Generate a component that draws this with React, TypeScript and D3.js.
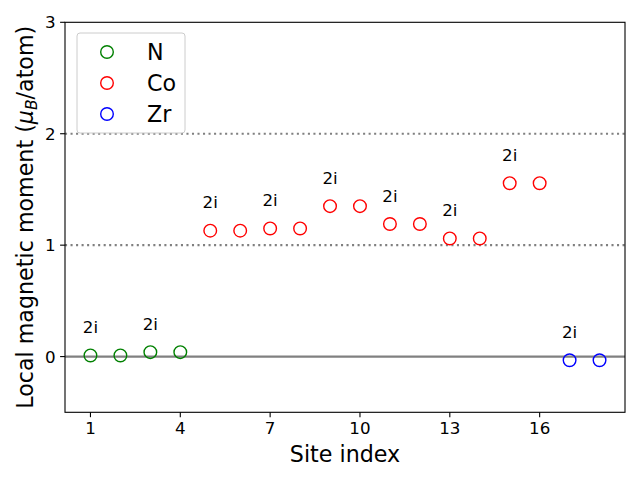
import React from "react";
import * as d3 from "d3";

const nSites = [1, 2, 3, 4];
const nMoments = [0.01, 0.01, 0.04, 0.04];
const coSites = [5, 6, 7, 8, 9, 10, 11, 12, 13, 14, 15, 16];
const coMoments = [1.13, 1.13, 1.15, 1.15, 1.35, 1.35, 1.19, 1.19, 1.06, 1.06, 1.556, 1.556];
const zrSites = [17, 18];
const zrMoments = [-0.033, -0.033];
const labelSites = [1, 3, 5, 7, 9, 11, 13, 15, 17];
const labelText = "2i";
const xTicks = [1, 4, 7, 10, 13, 16];
const yTicks = [0, 1, 2, 3];
const refLines = [1, 2];
const seriesNames = ["N", "Co", "Zr"];
const seriesColors = ["green", "red", "blue"];

const FONT = "DejaVu Sans, sans-serif";

export default function App() {
  const W = 640, H = 480;
  const L = 65, R = 625, T = 22.3, B = 412.3;
  const x = d3.scaleLinear().domain([0.15, 18.85]).range([L, R]);
  const y = d3.scaleLinear().domain([-0.5, 3]).range([B, T]);

  const series = [
    { sites: nSites, vals: nMoments },
    { sites: coSites, vals: coMoments },
    { sites: zrSites, vals: zrMoments },
  ];
  const allSites = [...nSites, ...coSites, ...zrSites];
  const allVals = [...nMoments, ...coMoments, ...zrMoments];
  const valAt = (s: number) => allVals[allSites.indexOf(s)];

  const r = 6.3;
  const mw = 1.4;
  const tickFs = 16.7;
  const labFs = 22.2;
  return (
    <svg width={W} height={H} style={{ position: "absolute", left: 0, top: 0 }} fontFamily={FONT}>
      <rect x={0} y={0} width={W} height={H} fill="white" />
      {refLines.map((v) => (
        <line key={v} x1={L} x2={R} y1={y(v)} y2={y(v)} stroke="#808080" strokeWidth={2.08} strokeDasharray="2.08,3.44" />
      ))}
      <line x1={L} x2={R} y1={y(0)} y2={y(0)} stroke="#808080" strokeWidth={2.08} />
      {series.map((s, i) =>
        s.sites.map((site, j) => (
          <circle key={`${i}-${j}`} cx={x(site)} cy={y(s.vals[j])} r={r} fill="none" stroke={seriesColors[i]} strokeWidth={mw} />
        ))
      )}
      {labelSites.map((s) => (
        <text key={s} x={x(s)} y={y(valAt(s) + 0.2)} textAnchor="middle" fontSize={tickFs} fill="black">
          {labelText}
        </text>
      ))}
      <rect x={L} y={T} width={R - L} height={B - T} fill="none" stroke="black" strokeWidth={1.1} />
      {xTicks.map((t) => (
        <g key={t}>
          <line x1={x(t)} x2={x(t)} y1={B} y2={B + 4.9} stroke="black" strokeWidth={1.1} />
          <text x={x(t)} y={B + 22} textAnchor="middle" fontSize={tickFs}>{t}</text>
        </g>
      ))}
      {yTicks.map((t) => (
        <g key={t}>
          <line x1={L - 4.9} x2={L} y1={y(t)} y2={y(t)} stroke="black" strokeWidth={1.1} />
          <text x={L - 9.5} y={y(t) + 6} textAnchor="end" fontSize={tickFs}>{t}</text>
        </g>
      ))}
      <text x={(L + R) / 2} y={462} textAnchor="middle" fontSize={labFs}>Site index</text>
      <text transform={`translate(33,${(T + B) / 2}) rotate(-90)`} textAnchor="middle" fontSize={labFs}>
        Local magnetic moment (<tspan fontStyle="italic">μ</tspan>
        <tspan fontStyle="italic" fontSize={15.5} dy={4}>B</tspan>
        <tspan dy={-4}>/atom)</tspan>
      </text>
      <g>
        <rect x={77} y={33} width={108} height={100} rx={3} fill="white" fillOpacity={0.8} stroke="#cccccc" strokeWidth={1} />
        {seriesNames.map((n, i) => (
          <g key={n}>
            <circle cx={107} cy={52 + i * 31} r={r} fill="none" stroke={seriesColors[i]} strokeWidth={mw} />
            <text x={147} y={52 + i * 31 + 8} fontSize={labFs}>{n}</text>
          </g>
        ))}
      </g>
    </svg>
  );
}
